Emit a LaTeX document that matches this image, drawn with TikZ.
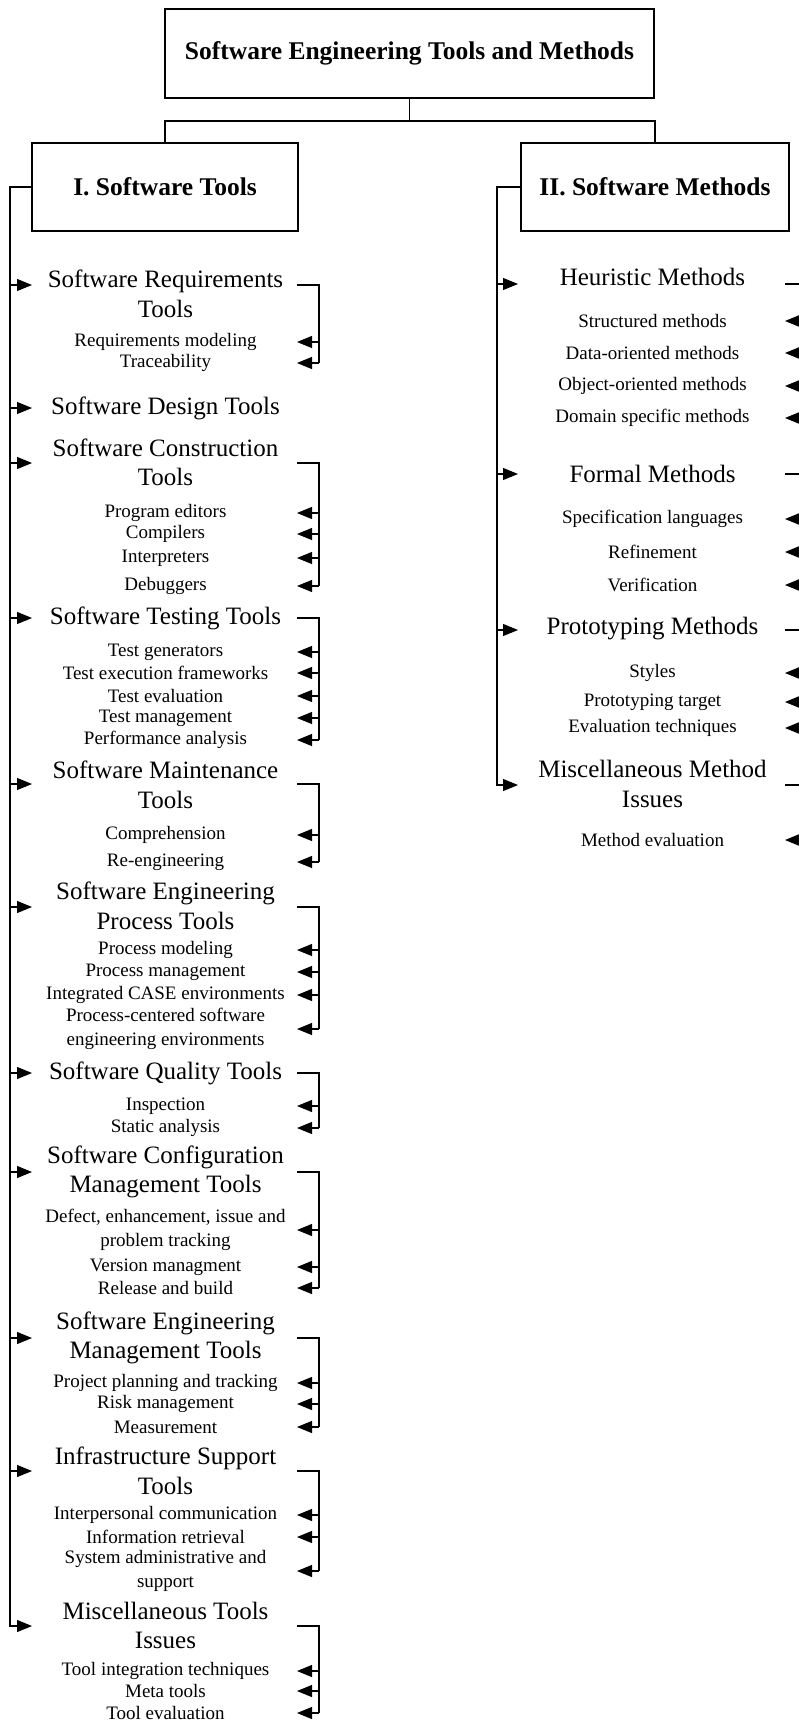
\documentclass[tikz,border=0pt]{standalone}
\usepackage{fontspec}
\setmainfont{Liberation Serif}
\usetikzlibrary{arrows.meta}
\newcommand\hdfont{\fontsize{25}{29.5}\selectfont}
\newcommand\itfont{\fontsize{19}{24}\selectfont}
\newcommand\ttlfont{\bfseries\fontsize{25.5}{30}\selectfont}
\begin{document}
\begin{tikzpicture}[x=1pt,y=-1pt,line width=1.1pt,
  box/.style={draw,font=\ttlfont,inner sep=0pt},
  head/.style={font=\hdfont,align=center,inner sep=0pt},
  item/.style={font=\itfont,align=center,inner sep=0pt},
  arr/.style={-{Triangle[length=15pt,width=12pt]}}]
\useasboundingbox (0,0) rectangle (799,1723);
\clip (0,0) rectangle (799,1723);
\fill[white] (0,0) rectangle (799,1723);

% top level
\node[box,minimum width=489pt,minimum height=89pt] (top) at (409.5,53.5) {Software Engineering Tools and Methods};
\node[box,minimum width=266pt,minimum height=88pt] (lbox) at (165,187) {I. Software Tools};
\node[box,minimum width=268pt,minimum height=88pt] (rbox) at (655,187) {II. Software Methods};
\coordinate (j) at (409.5,121);
\draw (top.south) -- (j);
\draw (lbox.north) |- (j) -| (rbox.north);

% reference x positions
\coordinate (lsx) at (10,0);
\coordinate (lhe) at (297,0);
\coordinate (lbr) at (319,0);
\coordinate (rsx) at (497,0);
\coordinate (rhe) at (785,0);
\coordinate (rbr) at (806,0);

% ===== Left column =====
% 1
\node[head] (h1) at (165.5,294) {Software Requirements\\Tools};
\node[item] (h1a) at (165.5,342) {Requirements modeling};
\node[item] (h1b) at (165.5,363) {Traceability};
\coordinate (a1) at (32,285);
\draw[arr] (lsx |- a1) -- (a1);
\draw (lhe |- a1) -| (lbr |- h1b);
\foreach \s in {h1a,h1b} \draw[arr] (lbr |- \s) -- (lhe |- \s);

% 2
\node[head] (h2) at (165.5,408) {Software Design Tools};
\coordinate (a2) at (32,408);
\draw[arr] (lsx |- a2) -- (a2);

% 3
\node[head] (h3) at (165.5,462.5) {Software Construction\\Tools};
\node[item] (h3a) at (165.5,513) {Program editors};
\node[item] (h3b) at (165.5,534) {Compilers};
\node[item] (h3c) at (165.5,558) {Interpreters};
\node[item] (h3d) at (165.5,586) {Debuggers};
\coordinate (a3) at (32,463);
\draw[arr] (lsx |- a3) -- (a3);
\draw (lhe |- a3) -| (lbr |- h3d);
\foreach \s in {h3a,h3b,h3c,h3d} \draw[arr] (lbr |- \s) -- (lhe |- \s);

% 4
\node[head] (h4) at (165.5,618) {Software Testing Tools};
\node[item] (h4a) at (165.5,652) {Test generators};
\node[item] (h4b) at (165.5,673) {Test execution frameworks};
\node[item] (h4c) at (165.5,696) {Test evaluation};
\node[item] (h4d) at (165.5,718) {Test management};
\node[item] (h4e) at (165.5,740) {Performance analysis};
\coordinate (a4) at (32,618);
\draw[arr] (lsx |- a4) -- (a4);
\draw (lhe |- a4) -| (lbr |- h4e);
\foreach \s in {h4a,h4b,h4c,h4d,h4e} \draw[arr] (lbr |- \s) -- (lhe |- \s);

% 5
\node[head] (h5) at (165.5,785) {Software Maintenance\\Tools};
\node[item] (h5a) at (165.5,835) {Comprehension};
\node[item] (h5b) at (165.5,862) {Re-engineering};
\coordinate (a5) at (32,784);
\draw[arr] (lsx |- a5) -- (a5);
\draw (lhe |- a5) -| (lbr |- h5b);
\foreach \s in {h5a,h5b} \draw[arr] (lbr |- \s) -- (lhe |- \s);

% 6
\node[head] (h6) at (165.5,906) {Software Engineering\\Process Tools};
\node[item] (h6a) at (165.5,950) {Process modeling};
\node[item] (h6b) at (165.5,972) {Process management};
\node[item] (h6c) at (165.5,995) {Integrated CASE environments};
\node[item] (h6d) at (165.5,1029) {Process-centered software\\engineering environments};
\coordinate (a6) at (32,907);
\draw[arr] (lsx |- a6) -- (a6);
\draw (lhe |- a6) -| (lbr |- h6d);
\foreach \s in {h6a,h6b,h6c,h6d} \draw[arr] (lbr |- \s) -- (lhe |- \s);

% 7
\node[head] (h7) at (165.5,1073) {Software Quality Tools};
\node[item] (h7a) at (165.5,1106) {Inspection};
\node[item] (h7b) at (165.5,1128) {Static analysis};
\coordinate (a7) at (32,1073);
\draw[arr] (lsx |- a7) -- (a7);
\draw (lhe |- a7) -| (lbr |- h7b);
\foreach \s in {h7a,h7b} \draw[arr] (lbr |- \s) -- (lhe |- \s);

% 8
\node[head] (h8) at (165.5,1172) {Software Configuration\\Management Tools};
\node[item] (h8a) at (165.5,1230) {Defect, enhancement, issue and\\problem tracking};
\node[item] (h8b) at (165.5,1267) {Version managment};
\node[item] (h8c) at (165.5,1288) {Release and build};
\coordinate (a8) at (32,1172);
\draw[arr] (lsx |- a8) -- (a8);
\draw (lhe |- a8) -| (lbr |- h8c);
\foreach \s in {h8a,h8b,h8c} \draw[arr] (lbr |- \s) -- (lhe |- \s);

% 9
\node[head] (h9) at (165.5,1338) {Software Engineering\\Management Tools};
\node[item] (h9a) at (165.5,1383) {Project planning and tracking};
\node[item] (h9b) at (165.5,1404) {Risk management};
\node[item] (h9c) at (165.5,1427) {Measurement};
\coordinate (a9) at (32,1338);
\draw[arr] (lsx |- a9) -- (a9);
\draw (lhe |- a9) -| (lbr |- h9c);
\foreach \s in {h9a,h9b,h9c} \draw[arr] (lbr |- \s) -- (lhe |- \s);

% 10
\node[head] (h10) at (165.5,1471) {Infrastructure Support\\Tools};
\node[item] (h10a) at (165.5,1515) {Interpersonal communication};
\node[item] (h10b) at (165.5,1537) {Information retrieval};
\node[item] (h10c) at (165.5,1571) {System administrative and\\support};
\coordinate (a10) at (32,1471);
\draw[arr] (lsx |- a10) -- (a10);
\draw (lhe |- a10) -| (lbr |- h10c);
\foreach \s in {h10a,h10b,h10c} \draw[arr] (lbr |- \s) -- (lhe |- \s);

% 11
\node[head] (h11) at (165.5,1625.5) {Miscellaneous Tools\\Issues};
\node[item] (h11a) at (165.5,1671) {Tool integration techniques};
\node[item] (h11b) at (165.5,1691) {Meta tools};
\node[item] (h11c) at (165.5,1713) {Tool evaluation};
\coordinate (a11) at (32,1626);
\draw[arr] (lbox.west) -| (lsx |- a11) -- (a11);
\draw (lhe |- a11) -| (lbr |- h11c);
\foreach \s in {h11a,h11b,h11c} \draw[arr] (lbr |- \s) -- (lhe |- \s);

% ===== Right column =====
% 1
\node[head] (m1) at (652.5,277) {Heuristic Methods};
\node[item] (m1a) at (652.5,321) {Structured methods};
\node[item] (m1b) at (652.5,353) {Data-oriented methods};
\node[item] (m1c) at (652.5,386) {Object-oriented methods};
\node[item] (m1d) at (652.5,418) {Domain specific methods};
\coordinate (b1) at (518,284);
\draw[arr] (rsx |- b1) -- (b1);
\draw (rhe |- b1) -| (rbr |- m1d);
\foreach \s in {m1a,m1b,m1c,m1d} \draw[arr] (rbr |- \s) -- (rhe |- \s);

% 2
\node[head] (m2) at (652.5,474) {Formal Methods};
\node[item] (m2a) at (652.5,519) {Specification languages};
\node[item] (m2b) at (652.5,552) {Refinement};
\node[item] (m2c) at (652.5,585) {Verification};
\coordinate (b2) at (518,474);
\draw[arr] (rsx |- b2) -- (b2);
\draw (rhe |- b2) -| (rbr |- m2c);
\foreach \s in {m2a,m2b,m2c} \draw[arr] (rbr |- \s) -- (rhe |- \s);

% 3
\node[head] (m3) at (652.5,629) {Prototyping Methods};
\node[item] (m3a) at (652.5,673) {Styles};
\node[item] (m3b) at (652.5,702) {Prototyping target};
\node[item] (m3c) at (652.5,728) {Evaluation techniques};
\coordinate (b3) at (518,630);
\draw[arr] (rsx |- b3) -- (b3);
\draw (rhe |- b3) -| (rbr |- m3c);
\foreach \s in {m3a,m3b,m3c} \draw[arr] (rbr |- \s) -- (rhe |- \s);

% 4
\node[head] (m4) at (652.5,784) {Miscellaneous Method\\Issues};
\node[item] (m4a) at (652.5,840) {Method evaluation};
\coordinate (b4) at (518,785);
\draw[arr] (rbox.west) -| (rsx |- b4) -- (b4);
\draw (rhe |- b4) -| (rbr |- m4a);
\draw[arr] (rbr |- m4a) -- (rhe |- m4a);
\end{tikzpicture}
\end{document}
